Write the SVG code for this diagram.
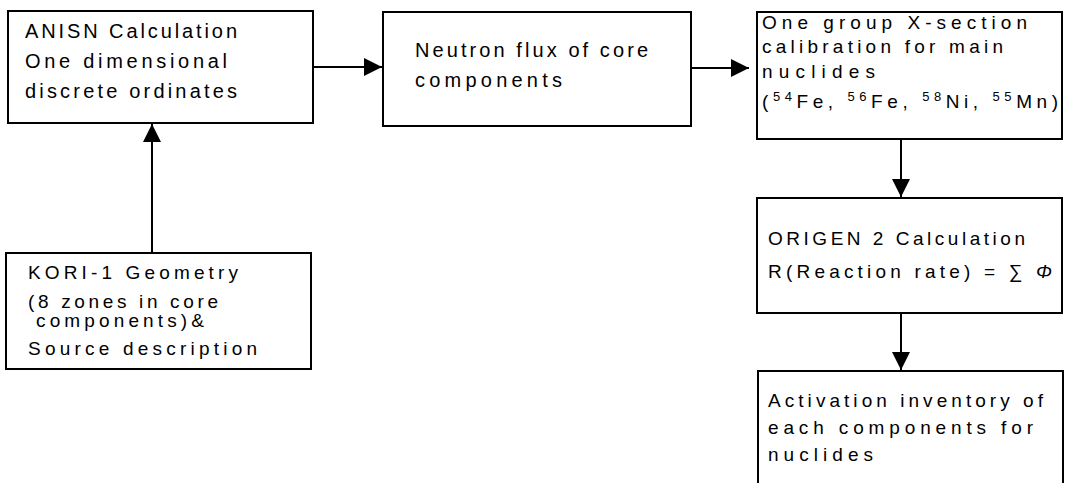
<svg xmlns="http://www.w3.org/2000/svg" width="1065" height="483" viewBox="0 0 1065 483">
<style>
.box{fill:#fff;stroke:#000;stroke-width:2}
.t{font-family:"Liberation Sans",Arial,sans-serif;font-size:20px;fill:#000}
.m{font-size:19px}
.s{font-size:13px}
.con{stroke:#000;stroke-width:2;fill:none}
</style>
<defs>
<marker id="ah" viewBox="0 0 18 18" refX="18" refY="9" markerWidth="18" markerHeight="18" markerUnits="userSpaceOnUse" orient="auto">
<path d="M0,0 L18,9 L0,18 Z" fill="#000"/>
</marker>
</defs>
<rect width="1065" height="483" fill="#fff"/>
<g id="connectors">
<line class="con" x1="313" y1="67" x2="382" y2="67" marker-end="url(#ah)"/>
<line class="con" x1="691" y1="68" x2="749" y2="68" marker-end="url(#ah)"/>
<line class="con" x1="901" y1="139" x2="901" y2="197" marker-end="url(#ah)"/>
<line class="con" x1="901" y1="313" x2="901" y2="370" marker-end="url(#ah)"/>
<line class="con" x1="152" y1="253" x2="152" y2="124" marker-end="url(#ah)"/>
</g>
<g id="anisn">
<rect class="box" x="8" y="11" width="305" height="112"/>
<text class="t" x="25" y="38" textLength="212" lengthAdjust="spacing">ANISN Calculation</text>
<text class="t" x="25" y="68" textLength="202" lengthAdjust="spacing">One dimensional</text>
<text class="t" x="25" y="98" textLength="212" lengthAdjust="spacing">discrete ordinates</text>
</g>
<g id="flux">
<rect class="box" x="383" y="12" width="308" height="114"/>
<text class="t" x="415" y="57" textLength="233" lengthAdjust="spacing">Neutron flux of core</text>
<text class="t" x="415" y="87" textLength="147" lengthAdjust="spacing">components</text>
</g>
<g id="xsection">
<rect class="box" x="757" y="12" width="305" height="127"/>
<text class="t m" x="762" y="29" textLength="265" lengthAdjust="spacing">One group X-section</text>
<text class="t m" x="762" y="53" textLength="241" lengthAdjust="spacing">calibration for main</text>
<text class="t m" x="762" y="78" textLength="113" lengthAdjust="spacing">nuclides</text>
<text class="t m" x="762" y="108" textLength="296" lengthAdjust="spacing">(<tspan class="s" dy="-7">54</tspan><tspan dy="7">Fe, </tspan><tspan class="s" dy="-7">56</tspan><tspan dy="7">Fe, </tspan><tspan class="s" dy="-7">58</tspan><tspan dy="7">Ni, </tspan><tspan class="s" dy="-7">55</tspan><tspan dy="7">Mn)</tspan></text>
</g>
<g id="origen">
<rect class="box" x="757" y="198" width="305" height="115"/>
<text class="t m" x="768" y="245" textLength="257" lengthAdjust="spacing">ORIGEN 2 Calculation</text>
<text class="t m" x="768" y="278" textLength="284" lengthAdjust="spacing">R(Reaction rate)  = ∑ <tspan font-style="italic">Φ</tspan></text>
</g>
<g id="inventory">
<rect class="box" x="758" y="371" width="305" height="125"/>
<text class="t m" x="768" y="407" textLength="275" lengthAdjust="spacing">Activation inventory of</text>
<text class="t m" x="768" y="434" textLength="265" lengthAdjust="spacing">each components for</text>
<text class="t m" x="768" y="461" textLength="105" lengthAdjust="spacing">nuclides</text>
</g>
<g id="kori">
<rect class="box" x="6" y="253" width="305" height="116"/>
<text class="t m" x="28" y="279" textLength="210" lengthAdjust="spacing">KORI-1 Geometry</text>
<text class="t m" x="28" y="308" textLength="190" lengthAdjust="spacing">(8 zones in core</text>
<text class="t m" x="36" y="327" textLength="168" lengthAdjust="spacing">components)&amp;</text>
<text class="t m" x="28" y="355" textLength="229" lengthAdjust="spacing">Source description</text>
</g>
</svg>
